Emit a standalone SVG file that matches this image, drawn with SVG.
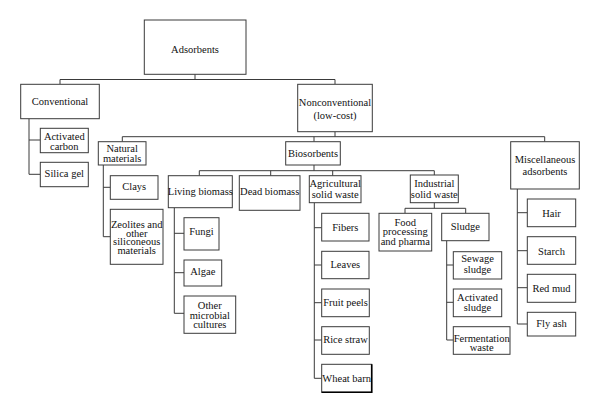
<svg xmlns="http://www.w3.org/2000/svg" width="600" height="413" viewBox="0 0 600 413">
<style>
rect{fill:#fff;stroke:#3a3a3a;stroke-width:1}
text{font-family:"Liberation Serif","Times New Roman",serif;font-size:10.5px;fill:#111;text-anchor:middle}
.c path{fill:none;stroke:#3a3a3a;stroke-width:1}
</style>
<rect x="0" y="0" width="600" height="413" style="stroke:none"/>
<g class="c" id="connectors">
<path d="M195 74V79.5M60 84V79.5H335V84"/>
<path d="M29 118.7V174.3M29 140H40.3M29 174.3H40.3"/>
<path d="M335 131.7V136.7M122.3 141.7V136.7H544.7V141.7M314 136.7V141.7"/>
<path d="M103.3 165V236.7M103.3 187.3H110.3M103.3 236.7H110.3"/>
<path d="M314 165V170.7M199.3 175.7V170.7H434.3V175M270.7 170.7V175.7M332.7 170.7V175.7"/>
<path d="M174.3 207.7V313.3M174.3 233.3H184M174.3 272.7H184M174.3 313.3H184"/>
<path d="M314.3 202.7V378.3M314.3 227.7H321.7M314.3 265H321.7M314.3 302.7H321.7M314.3 340H321.7M314.3 378.3H321.7"/>
<path d="M434.3 202.7V208.3M405 213.3V208.3H465.7V213.3"/>
<path d="M446.7 240.7V340M446.7 265H453.3M446.7 302.3H453.3M446.7 340H453.3"/>
<path d="M517.3 189V324M517.3 212.7H527.3M517.3 250.7H527.3M517.3 287.7H527.3M517.3 324H527.3"/>
</g>
<g id="adsorbents"><rect x="144.3" y="20" width="101.7" height="54.3"/><text x="195" y="53">Adsorbents</text></g>
<g id="conventional"><rect x="20.7" y="84.3" width="78.6" height="34.4"/><text x="60" y="105">Conventional</text></g>
<g id="nonconventional"><rect x="297.7" y="84.3" width="74.6" height="47.4"/><text x="335" y="106">Nonconventional</text><text x="335" y="118.5">(low-cost)</text></g>
<g id="activated-carbon"><rect x="40.3" y="128.3" width="48" height="24.4"/><text x="64.3" y="140">Activated</text><text x="64.3" y="149.5">carbon</text></g>
<g id="silica-gel"><rect x="40.3" y="162.3" width="48" height="24.4"/><text x="64.3" y="176.5">Silica gel</text></g>
<g id="natural-materials"><rect x="98.3" y="141.7" width="47.7" height="23.3"/><text x="122.2" y="152.3">Natural</text><text x="122.2" y="161.5">materials</text></g>
<g id="clays"><rect x="110.3" y="175.7" width="47.7" height="23.6"/><text x="134.2" y="190">Clays</text></g>
<g id="zeolites"><rect x="110.3" y="209.3" width="52.7" height="55"/><text x="136.7" y="228.3">Zeolites and</text><text x="136.7" y="236.5">other</text><text x="136.7" y="245">siliconeous</text><text x="136.7" y="254">materials</text></g>
<g id="biosorbents"><rect x="285.7" y="141.7" width="54.6" height="23.3"/><text x="313" y="157">Biosorbents</text></g>
<g id="living-biomass"><rect x="168.3" y="175.7" width="64" height="32"/><text x="200.3" y="195">Living biomass</text></g>
<g id="dead-biomass"><rect x="239.3" y="175.7" width="60.7" height="34.6"/><text x="269.7" y="195">Dead biomass</text></g>
<g id="agricultural"><rect x="309.3" y="175.7" width="51.7" height="27"/><text x="335.2" y="187">Agricultural</text><text x="335.2" y="198">solid waste</text></g>
<g id="industrial"><rect x="410.3" y="175" width="48" height="27.7"/><text x="434.3" y="186.5">Industrial</text><text x="434.3" y="198">solid waste</text></g>
<g id="misc"><rect x="510.7" y="141.7" width="68.6" height="47.3"/><text x="545" y="163">Miscellaneous</text><text x="545" y="175">adsorbents</text></g>
<g id="fungi"><rect x="184" y="217.7" width="35" height="32.3"/><text x="201.5" y="235">Fungi</text></g>
<g id="algae"><rect x="184" y="260" width="37.7" height="26"/><text x="202.8" y="275">Algae</text></g>
<g id="other-microbial"><rect x="184" y="296" width="51.7" height="37.3"/><text x="209.8" y="309">Other</text><text x="209.8" y="318.8">microbial</text><text x="209.8" y="328.3">cultures</text></g>
<g id="fibers"><rect x="321.7" y="213.3" width="47.3" height="27.7"/><text x="345.3" y="230.5">Fibers</text></g>
<g id="leaves"><rect x="321.7" y="251.3" width="47.3" height="27.4"/><text x="345.3" y="268.3">Leaves</text></g>
<g id="fruit-peels"><rect x="321.7" y="289" width="47.6" height="27.7"/><text x="345.5" y="305.5">Fruit peels</text></g>
<g id="rice-straw"><rect x="321.7" y="326.7" width="47.6" height="27.6"/><text x="345.5" y="343">Rice straw</text></g>
<g id="wheat-barn"><rect x="321.7" y="364.3" width="50" height="28"/><path d="M321.7 392.3H371.7V364.3" fill="none" stroke="#000" stroke-width="1.6"/><text x="346.7" y="382">Wheat barn</text></g>
<g id="food-processing"><rect x="379" y="213.3" width="52.7" height="37.7"/><text x="405.3" y="226">Food</text><text x="405.3" y="235">processing</text><text x="405.3" y="244.5">and pharma</text></g>
<g id="sludge"><rect x="441.7" y="213.3" width="47.3" height="27.4"/><text x="465.3" y="230">Sludge</text></g>
<g id="sewage-sludge"><rect x="453.3" y="251.7" width="48.4" height="27.3"/><text x="477.5" y="262">Sewage</text><text x="477.5" y="273">sludge</text></g>
<g id="activated-sludge"><rect x="453.3" y="289" width="48.4" height="27.7"/><text x="477.5" y="300.5">Activated</text><text x="477.5" y="311">sludge</text></g>
<g id="fermentation-waste"><rect x="453.3" y="326.7" width="56.7" height="27.6"/><text x="481.7" y="341.5">Fermentation</text><text x="481.7" y="350.5">waste</text></g>
<g id="hair"><rect x="527.3" y="199" width="48.4" height="27.7"/><text x="551.5" y="216.5">Hair</text></g>
<g id="starch"><rect x="527.3" y="236.7" width="48.4" height="27.6"/><text x="551.5" y="255">Starch</text></g>
<g id="red-mud"><rect x="527.3" y="274.3" width="48.4" height="28"/><text x="551.5" y="291.5">Red mud</text></g>
<g id="fly-ash"><rect x="527.3" y="312.3" width="48.4" height="23.7"/><text x="551.5" y="326.5">Fly ash</text></g>
</svg>
